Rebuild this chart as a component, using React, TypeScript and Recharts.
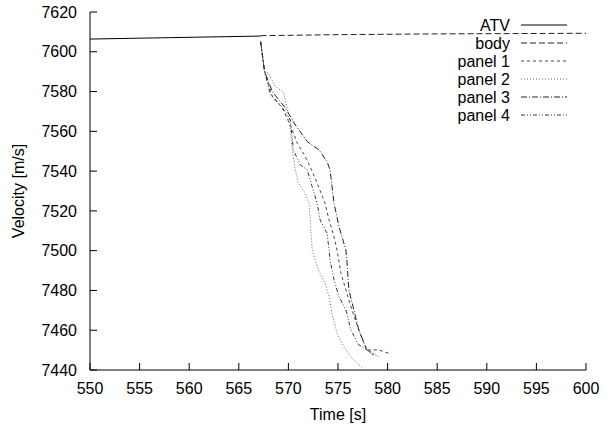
import React from 'react';
import { LineChart, Line, XAxis, YAxis, Legend } from 'recharts';

const FONT = '"Liberation Sans", Arial, sans-serif';

const xTicks = [550, 555, 560, 565, 570, 575, 580, 585, 590, 595, 600];
const yTicks = [7440, 7460, 7480, 7500, 7520, 7540, 7560, 7580, 7600, 7620];

// ATV before break-up
const atvTime = [550, 558, 567.2];
const atvVel = [7606.4, 7607.1, 7607.9];

// body keeps flying almost unchanged
const bodyTime = [567.2, 575, 585, 600];
const bodyVel = [7608.1, 7608.6, 7609.0, 7609.3];

const panel1Time = [567.2, 567.6, 568.4, 569.4, 570.4, 570.9, 571.7, 572.3, 572.9, 573.7, 574.1, 574.6, 574.9, 575.3, 575.8, 576.4, 577.1, 577.9, 579.1, 580.1];
const panel1Vel = [7605.1, 7590.0, 7577.3, 7571.7, 7560.7, 7554.0, 7547.3, 7541.0, 7533.9, 7523.8, 7515.4, 7507.0, 7500.3, 7488.6, 7480.2, 7470.2, 7460.1, 7450.1, 7450.1, 7448.4];

const panel2Time = [567.2, 567.6, 568.0, 568.7, 569.5, 570.0, 570.4, 570.7, 571.0, 571.7, 572.1, 572.2, 572.4, 572.7, 573.1, 573.7, 574.1, 574.4, 574.9, 575.6, 576.4, 577.5];
const panel2Vel = [7605.1, 7590.0, 7589.2, 7582.4, 7579.9, 7569.2, 7550.6, 7540.6, 7533.9, 7528.8, 7523.8, 7515.4, 7500.3, 7495.3, 7489.4, 7483.6, 7476.9, 7468.5, 7458.5, 7451.7, 7445.9, 7440.9];

const panel3Time = [567.2, 567.6, 568.4, 569.7, 570.7, 571.9, 573.1, 573.9, 574.2, 574.4, 574.6, 575.1, 575.4, 575.8, 575.9, 576.1, 576.6, 577.1, 577.9, 578.6];
const panel3Vel = [7605.1, 7590.0, 7579.8, 7571.7, 7563.2, 7554.8, 7550.6, 7544.7, 7540.6, 7532.2, 7523.8, 7512.1, 7507.0, 7500.3, 7494.5, 7480.2, 7470.2, 7460.1, 7450.1, 7447.5];

const panel4Time = [567.2, 567.6, 568.2, 569.2, 570.2, 570.5, 571.2, 571.9, 572.4, 572.9, 573.2, 573.9, 574.1, 574.2, 574.6, 575.1, 575.8, 576.3, 577.1, 577.9, 579.1];
const panel4Vel = [7605.1, 7590.0, 7578.3, 7573.2, 7565.7, 7550.6, 7543.1, 7540.6, 7532.2, 7523.8, 7515.4, 7508.7, 7500.3, 7495.3, 7485.3, 7476.9, 7470.2, 7460.1, 7452.6, 7450.1, 7446.7];

const zip = (t: number[], v: number[]) => t.map((x, i) => ({ t: x, v: v[i] }));

const series = [
  { name: 'ATV', data: zip(atvTime, atvVel), stroke: '#000', dash: undefined as string | undefined },
  { name: 'body', data: zip(bodyTime, bodyVel), stroke: '#222', dash: '6 3' },
  { name: 'panel 1', data: zip(panel1Time, panel1Vel), stroke: '#444', dash: '3 3' },
  { name: 'panel 2', data: zip(panel2Time, panel2Vel), stroke: '#666', dash: '1 2' },
  { name: 'panel 3', data: zip(panel3Time, panel3Vel), stroke: '#222', dash: '6 2 1 2' },
  { name: 'panel 4', data: zip(panel4Time, panel4Vel), stroke: '#333', dash: '4 2 1 2 1 2' },
];

const tickStyle = { fontFamily: FONT, fontSize: 16, fill: '#000' };

function KeyBox() {
  return (
    <svg width={180} height={110}>
      {series.map((s, i) => {
        const y = 11 + i * 18;
        return (
          <g key={s.name}>
            <text x={100} y={y} textAnchor="end" dominantBaseline="central" fontFamily={FONT} fontSize={16} fill="#000">
              {s.name}
            </text>
            <line x1={111} x2={157} y1={y} y2={y} stroke={s.stroke} strokeWidth={1} strokeDasharray={s.dash} />
          </g>
        );
      })}
    </svg>
  );
}

export default function App() {
  return (
    <div style={{ position: 'absolute', left: 0, top: 0, background: '#fff' }}>
      <LineChart width={615} height={427} margin={{ top: 12, right: 29, bottom: 0, left: 0 }}>
        <XAxis
          xAxisId="b"
          dataKey="t"
          type="number"
          domain={[550, 600]}
          ticks={xTicks}
          allowDataOverflow
          height={57}
          tickSize={-7}
          tickMargin={20}
          stroke="#000"
          tick={tickStyle}
          label={{
            content: () => (
              <text x={338} y={414} textAnchor="middle" dominantBaseline="central" fontFamily={FONT} fontSize={16} fill="#000">
                Time [s]
              </text>
            ),
          }}
        />
        <XAxis xAxisId="t" orientation="top" type="number" domain={[550, 600]} ticks={xTicks} height={0} tickSize={-7} tick={false} stroke="#000" />
        <YAxis
          yAxisId="l"
          type="number"
          domain={[7440, 7620]}
          ticks={yTicks}
          allowDataOverflow
          width={90}
          tickSize={-7}
          tickMargin={20}
          stroke="#000"
          tick={tickStyle}
          label={{
            content: () => (
              <text x={18} y={191} transform="rotate(-90 18 191)" textAnchor="middle" dominantBaseline="central" fontFamily={FONT} fontSize={16} fill="#000">
                Velocity [m/s]
              </text>
            ),
          }}
        />
        <YAxis yAxisId="r" orientation="right" type="number" domain={[7440, 7620]} ticks={yTicks} width={0} tickSize={-7} tick={false} stroke="#000" />
        <Legend
          layout="horizontal"
          verticalAlign="middle"
          align="center"
          content={() => <KeyBox />}
          wrapperStyle={{ position: 'absolute', left: 410, top: 14, width: 180, height: 110 }}
        />
        {series.map((s) => (
          <Line
            key={s.name}
            xAxisId="b"
            yAxisId="l"
            data={s.data}
            dataKey="v"
            name={s.name}
            type="linear"
            stroke={s.stroke}
            strokeWidth={1}
            strokeDasharray={s.dash}
            dot={false}
            activeDot={false}
            isAnimationActive={false}
          />
        ))}
      </LineChart>
    </div>
  );
}
